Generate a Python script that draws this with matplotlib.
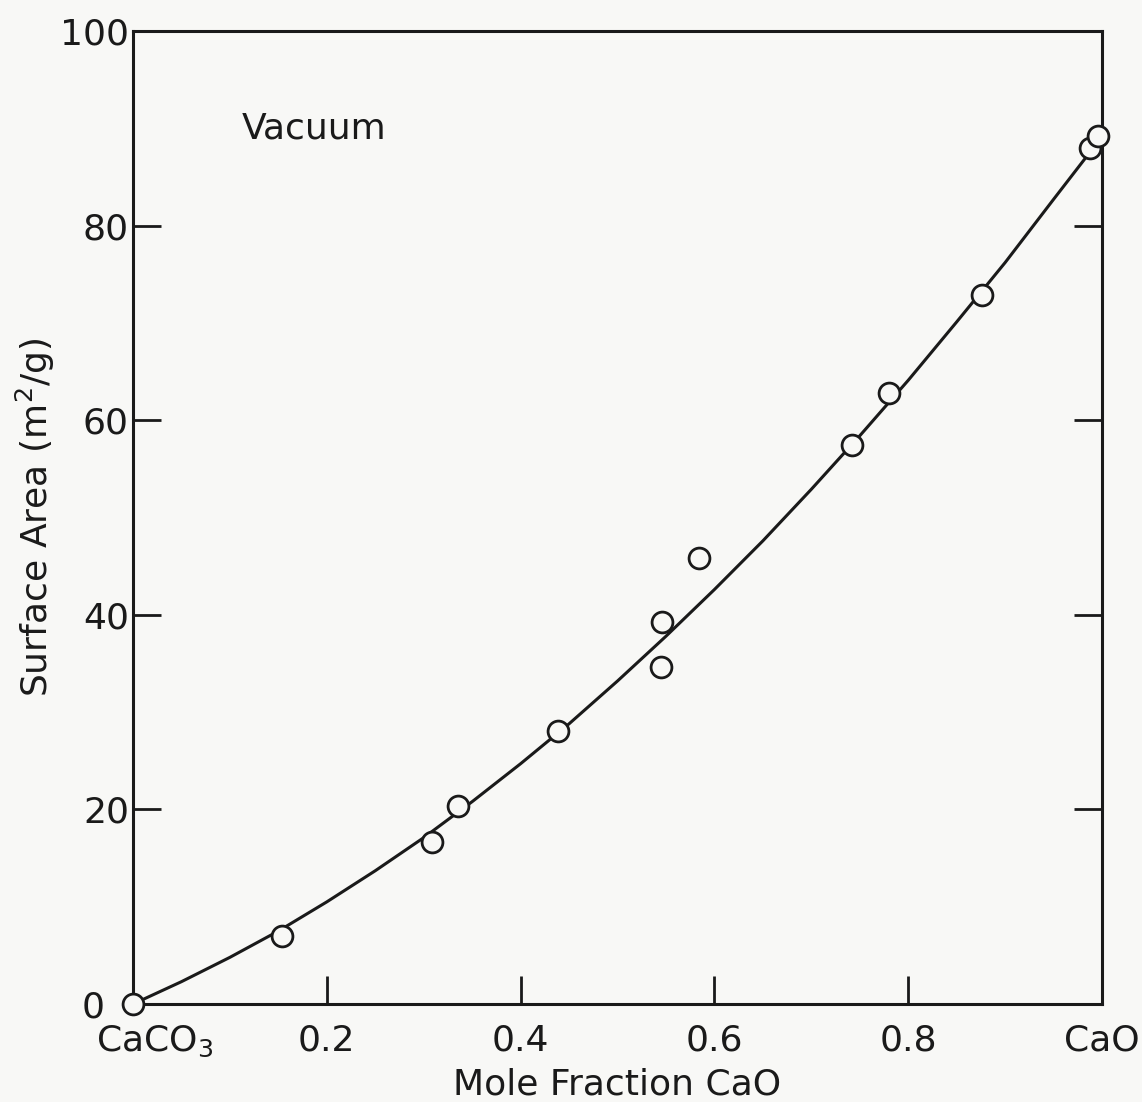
import matplotlib
matplotlib.use("Agg")
import matplotlib.pyplot as plt
from matplotlib.transforms import ScaledTranslation

# measured surface area of partially calcined samples
mole_frac = [0.0, 0.154, 0.309, 0.335, 0.439, 0.546, 0.545, 0.584,
             0.742, 0.780, 0.876, 0.988, 0.996]
area = [0.0, 7.0, 16.7, 20.3, 28.1, 39.3, 34.6, 45.8,
        57.5, 62.8, 72.9, 88.0, 89.2]

# hand-drawn trend line through the data
curve_x = [0.0, 0.05, 0.10, 0.15, 0.20, 0.25, 0.30, 0.35, 0.40, 0.45, 0.50,
           0.55, 0.60, 0.65, 0.70, 0.75, 0.80, 0.85, 0.90, 0.95, 0.988]
curve_y = [0.0, 2.3, 4.8, 7.5, 10.5, 13.7, 17.1, 20.8, 24.7, 28.8, 33.2,
           37.8, 42.6, 47.6, 52.9, 58.4, 64.1, 70.1, 76.2, 82.7, 87.6]

xticks = [0.0, 0.2, 0.4, 0.6, 0.8, 1.0]
xlabels = ['CaCO$_3$', '0.2', '0.4', '0.6', '0.8', 'CaO']
yticks = [0, 20, 40, 60, 80, 100]

plt.rcParams['font.family'] = ['DejaVu Sans']
plt.rcParams['mathtext.fontset'] = 'dejavusans'

ink = '#1a1a1a'
bg = '#f8f8f6'
fig = plt.figure(figsize=(11.42, 11.02), dpi=100, facecolor=bg)
ax = fig.add_axes([0.1165, 0.0889, 0.8485, 0.883], facecolor=bg)

ax.plot(curve_x, curve_y, color=ink, lw=2.2, zorder=2)
ax.plot(mole_frac, area, 'o', ms=15, mfc=bg, mec=ink, mew=2.0,
        zorder=3, clip_on=False)

ax.set_xlim(0, 1)
ax.set_ylim(0, 100)
ax.set_xticks(xticks)
ax.set_xticklabels(xlabels)
ax.set_yticks(yticks)
ax.set_yticklabels([str(v) for v in yticks])

ax.tick_params(axis='both', direction='in', length=20, width=2,
               color=ink, labelsize=26, labelcolor=ink)
ax.tick_params(axis='y', right=True, pad=3)
ax.tick_params(axis='x', pad=14)
for s in ax.spines.values():
    s.set_linewidth(2.2)
    s.set_color(ink)

# nudge the corner labels clear of the origin marker
fig.canvas.draw()
y0 = ax.get_yticklabels()[0]
y0.set_transform(y0.get_transform() + ScaledTranslation(-0.24, 0, fig.dpi_scale_trans))
x0 = ax.get_xticklabels()[0]
x0.set_transform(x0.get_transform() + ScaledTranslation(0.22, 0, fig.dpi_scale_trans))

ax.set_xlabel('Mole Fraction CaO', fontsize=26, color=ink, labelpad=6)
ax.set_ylabel('Surface Area (m$^2$/g)', fontsize=26, color=ink)
ax.yaxis.set_label_coords(-0.078, 0.5)
ax.text(0.112, 90.0, 'Vacuum', fontsize=26, color=ink, va='center')

fig.savefig('out.png', dpi=100, facecolor=bg)
